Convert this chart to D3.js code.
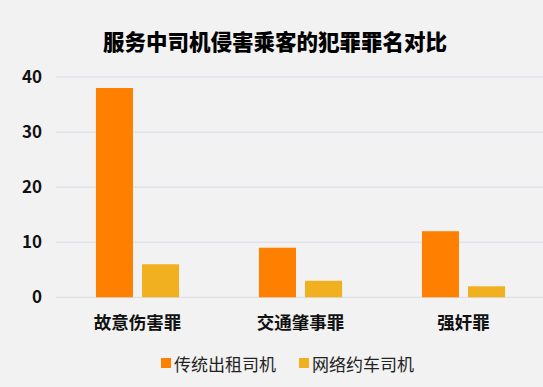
<!DOCTYPE html>
<html>
<head>
<meta charset="utf-8">
<script src="https://cdn.jsdelivr.net/npm/d3@7"></script>
<style>
  body { margin: 0; background: #f2f2f2; }
  svg { display: block; font-family: "Noto Sans CJK SC", "Noto Sans", sans-serif; }
</style>
</head>
<body>
<div id="chart"></div>
<script>
// chart data
var categories = ["故意伤害罪", "交通肇事罪", "强奸罪"];
var seriesNames = ["传统出租司机", "网络约车司机"];
var taxiValues = [38, 9, 12];
var onlineValues = [6, 3, 2];
var yTicks = [0, 10, 20, 30, 40];

var colors = ["#ff8000", "#f0b020"];

var W = 543, H = 387;

var svg = d3.select("#chart")
    .append("svg")
    .attr("width", W)
    .attr("height", H);

svg.append("rect")
    .attr("width", W)
    .attr("height", H)
    .attr("fill", "#f2f2f2");

// title
svg.append("text")
    .attr("x", 275)
    .attr("y", 40)
    .attr("text-anchor", "middle")
    .attr("dominant-baseline", "central")
    .attr("font-size", 21.5)
    .attr("font-weight", 900)
    .attr("fill", "#000")
    .text("服务中司机侵害乘客的犯罪罪名对比");

// scales
var x0 = d3.scaleBand()
    .domain(categories)
    .range([56, 545])
    .paddingInner(0.49)
    .paddingOuter(0.245);

var x1 = d3.scaleBand()
    .domain(seriesNames)
    .range([0, x0.bandwidth()])
    .paddingInner(0.196);

var y = d3.scaleLinear()
    .domain([0, 40])
    .range([297.3, 77]);

// gridlines
svg.append("g")
    .selectAll("line")
    .data(yTicks)
    .enter()
    .append("line")
    .attr("x1", 56)
    .attr("x2", W)
    .attr("y1", function(d) { return y(d); })
    .attr("y2", function(d) { return y(d); })
    .attr("stroke", "#d6dce5")
    .attr("stroke-width", 1);

// y axis labels
var yAxis = svg.append("g")
    .attr("transform", "translate(42,0)")
    .call(d3.axisLeft(y).tickValues(yTicks).tickSize(0).tickPadding(0));
yAxis.select(".domain").remove();
yAxis.selectAll("text")
    .attr("font-size", 17)
    .attr("font-weight", 700)
    .attr("fill", "#111")
    .attr("font-family", "\"Noto Sans CJK SC\", sans-serif");

// bars
var rows = categories.map(function(c, i) {
    return { cat: c, vals: [taxiValues[i], onlineValues[i]] };
});

var groups = svg.append("g")
    .selectAll("g")
    .data(rows)
    .enter()
    .append("g")
    .attr("transform", function(d) { return "translate(" + x0(d.cat) + ",0)"; });

groups.selectAll("rect")
    .data(function(d) {
        return d.vals.map(function(v, j) { return { name: seriesNames[j], v: v, j: j }; });
    })
    .enter()
    .append("rect")
    .attr("x", function(d) { return x1(d.name); })
    .attr("y", function(d) { return y(d.v); })
    .attr("width", x1.bandwidth())
    .attr("height", function(d) { return y(0) - y(d.v); })
    .attr("fill", function(d) { return colors[d.j]; });

// x axis labels
var xAxis = svg.append("g")
    .attr("transform", "translate(0,317)")
    .call(d3.axisBottom(x0).tickSize(0).tickPadding(0));
xAxis.select(".domain").remove();
xAxis.selectAll("text")
    .attr("font-size", 17.5)
    .attr("font-weight", 700)
    .attr("fill", "#111")
    .attr("font-family", "\"Noto Sans CJK SC\", sans-serif");

// legend
var legendX = [161, 299];
var legend = svg.append("g")
    .selectAll("g")
    .data(seriesNames)
    .enter()
    .append("g")
    .attr("transform", function(d, i) { return "translate(" + legendX[i] + ",363)"; });

legend.append("rect")
    .attr("x", 0)
    .attr("y", -5)
    .attr("width", 10)
    .attr("height", 10)
    .attr("fill", function(d, i) { return colors[i]; });

legend.append("text")
    .attr("x", 13)
    .attr("y", 0)
    .attr("dominant-baseline", "central")
    .attr("font-size", 17)
    .attr("fill", "#222")
    .text(function(d) { return d; });
</script>
</body>
</html>
